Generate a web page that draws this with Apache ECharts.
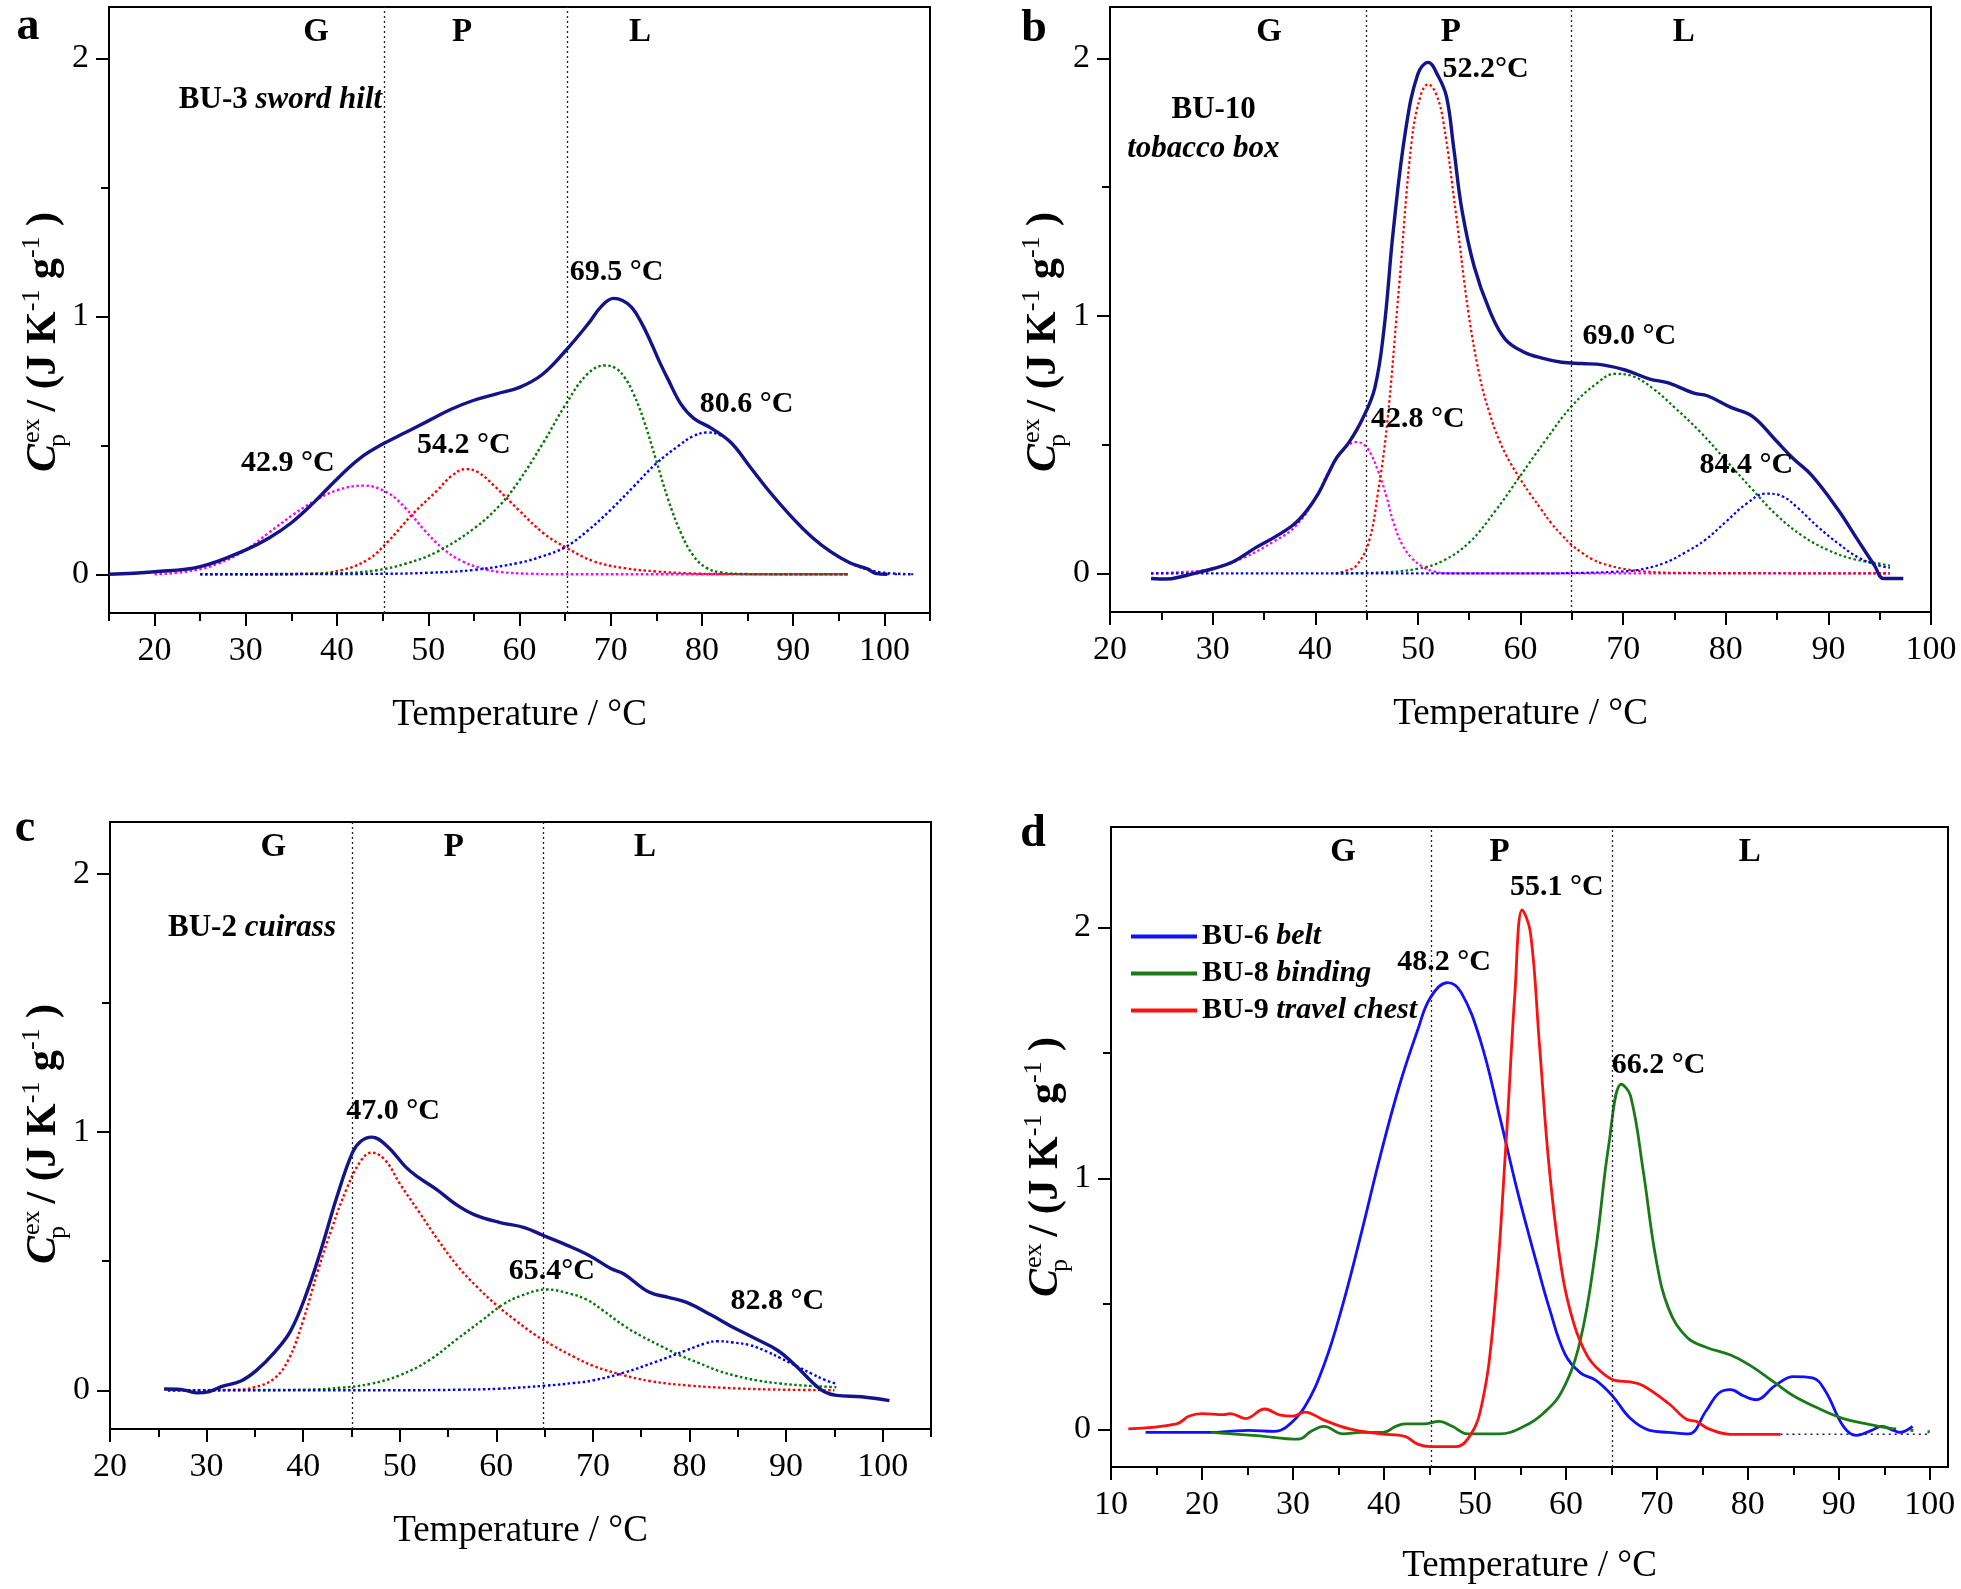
<!DOCTYPE html>
<html><head><meta charset="utf-8">
<script src="https://cdn.jsdelivr.net/npm/echarts@6/dist/echarts.min.js"></script>
<style>html,body{margin:0;padding:0;background:#fff}#c{width:1961px;height:1589px}</style>
</head><body><div id="c"></div><script>
const FONT = "'Liberation Serif','Times New Roman',Times,serif";
const NAVY = '#14148a';

// ---------- Panel a : BU-3 sword hilt ----------
const a_env = [[15,0],[20,0.01],[25,0.03],[30,0.095],[32.5,0.14],[35,0.2],[37.5,0.28],[40,0.37],[42.5,0.45],[45,0.505],[47.5,0.55],[50,0.595],[52.5,0.64],[55,0.675],[57.5,0.7],[60,0.725],[62.5,0.775],[65,0.865],[67.5,0.97],[69,1.04],[70.3,1.07],[71.3,1.062],[72.3,1.035],[73.3,0.98],[74.4,0.9],[75.4,0.82],[76.3,0.755],[77.7,0.66],[79.1,0.605],[81.1,0.565],[83.2,0.51],[85.2,0.42],[87.3,0.325],[90,0.216],[92.1,0.143],[94.1,0.088],[96.2,0.045],[97.4,0.03],[98.2,0.02],[99,0.004],[100.3,0]];
const a_tail = [[100.3,0],[103.5,0]];
const a_magenta = [[20,0],[23.6,0.011],[27,0.042],[30.1,0.097],[32.5,0.161],[35.3,0.234],[37.3,0.28],[40,0.326],[42.9,0.344],[45.5,0.317],[47.6,0.253],[49.6,0.17],[51.7,0.097],[53.7,0.051],[55.8,0.024],[57.9,0.009],[61.3,0.002],[65,0],[96,0]];
const a_red = [[30,0],[37,0.002],[40.7,0.018],[43.5,0.06],[45.5,0.124],[48.3,0.234],[51,0.326],[52.5,0.38],[54.1,0.408],[55.5,0.395],[57.2,0.344],[59.9,0.25],[62.6,0.16],[65,0.106],[68.1,0.051],[71.5,0.024],[75,0.011],[78.4,0.004],[82,0.001],[96,0]];
const a_green = [[25,0],[40,0.004],[44.2,0.015],[47.6,0.042],[51,0.088],[55.1,0.18],[57.9,0.27],[59.9,0.36],[62.6,0.51],[65,0.655],[67.4,0.775],[69.4,0.81],[70.5,0.8],[71.5,0.765],[72.5,0.7],[73.6,0.6],[75,0.44],[76.3,0.29],[77.7,0.16],[79.1,0.07],[80.5,0.025],[82,0.008],[85,0.001],[96,0]];
const a_blue = [[25,0],[45,0.002],[50,0.006],[55,0.017],[60,0.045],[62.5,0.07],[65,0.105],[67.5,0.17],[70,0.25],[72.5,0.34],[75,0.43],[77.5,0.5],[79,0.535],[80.6,0.55],[82,0.54],[83.5,0.5],[85.2,0.42],[87.3,0.325],[90,0.216],[92,0.145],[94,0.09],[96,0.048],[98,0.02],[100,0.006],[103,0]];
const a_text = [
  {x:34.6,y:0.43,t:'42.9 °C'},{x:53.9,y:0.50,t:'54.2 °C'},{x:70.65,y:1.17,t:'69.5 °C'},{x:84.9,y:0.66,t:'80.6 °C'},
  {x:37.7,y:2.1,t:'G'},{x:53.7,y:2.1,t:'P'},{x:73.2,y:2.1,t:'L'},
  {x:33.8,y:1.84,t:'{b|BU-3 }{bi|sword hilt}'}
];

// ---------- Panel b : BU-10 tobacco box ----------
const b_env = [[24,-0.02],[25.5,-0.022],[27,-0.012],[28.5,0.003],[30,0.018],[32,0.045],[34.2,0.1],[36,0.14],[37.9,0.19],[39.1,0.24],[40.3,0.31],[41.3,0.39],[42.1,0.45],[43.3,0.51],[44.6,0.6],[45.8,0.72],[46.7,0.95],[47.6,1.33],[48.8,1.72],[50,1.94],[51,1.985],[52,1.93],[52.8,1.85],[53.5,1.65],[54.3,1.41],[55.5,1.19],[57,1.02],[58.5,0.91],[60.3,0.86],[62.2,0.835],[64,0.82],[66,0.815],[68,0.81],[70.2,0.79],[72.6,0.755],[74.4,0.74],[76.9,0.7],[78.2,0.69],[80.5,0.645],[82.6,0.61],[84.8,0.52],[86.6,0.445],[88.4,0.38],[90.9,0.25],[92.7,0.14],[94.5,0.03],[95.4,-0.02],[97.3,-0.02]];
const b_magenta = [[24,0],[27,0.005],[30,0.018],[33,0.06],[36,0.125],[38,0.18],[40,0.29],[41.5,0.41],[43,0.49],[44,0.51],[45,0.49],[46.1,0.4],[47,0.29],[47.6,0.2],[48.5,0.11],[49.4,0.06],[50.5,0.025],[51.5,0.008],[53,0],[96,0]];
const b_red = [[42,0],[43,0.01],[44,0.03],[45.2,0.12],[46.1,0.31],[47,0.58],[48.2,1.13],[49.4,1.68],[50.3,1.86],[51,1.9],[51.8,1.86],[52.5,1.75],[53.7,1.4],[54.9,1.02],[56,0.77],[57,0.62],[58,0.51],[59,0.43],[60,0.365],[61,0.305],[62,0.25],[63,0.195],[64,0.15],[65,0.11],[66,0.08],[67,0.055],[68,0.038],[70,0.018],[72,0.008],[75,0.002],[96,0]];
const b_green = [[42,0],[46,0.003],[50,0.018],[52.5,0.05],[55,0.12],[57.5,0.24],[60,0.38],[62.5,0.52],[65,0.65],[67.5,0.74],[69.2,0.775],[71,0.765],[73,0.715],[75,0.645],[77.5,0.55],[80,0.44],[82.5,0.33],[85,0.225],[87.5,0.145],[90,0.09],[92.5,0.055],[95,0.038],[96,0.03]];
const b_blue = [[24,0],[62,0],[66,0.002],[69,0.006],[71.4,0.013],[74,0.04],[76,0.08],[78,0.13],[80,0.2],[82,0.27],[83.9,0.31],[85.5,0.3],[87,0.255],[89,0.18],[91,0.115],[93,0.06],[95,0.03],[96,0.022]];
const b_text = [
  {x:56.6,y:1.96,t:'52.2°C'},{x:70.6,y:0.92,t:'69.0 °C'},{x:50.0,y:0.60,t:'42.8 °C'},{x:82.0,y:0.42,t:'84.4 °C'},
  {x:35.5,y:2.1,t:'G'},{x:53.2,y:2.1,t:'P'},{x:75.9,y:2.1,t:'L'},
  {x:30.1,y:1.80,t:'{b|BU-10}'},{x:29.1,y:1.65,t:'{bi|tobacco box}'}
];

// ---------- Panel c : BU-2 cuirass ----------
const c_env = [[25.6,0.005],[27,0.004],[28,-0.002],[29,-0.01],[30.3,-0.005],[31.6,0.015],[33.5,0.035],[35.1,0.075],[37.1,0.15],[38.7,0.23],[40.3,0.37],[41.9,0.55],[43.5,0.75],[45.1,0.92],[46,0.965],[47.1,0.98],[48.7,0.945],[50.6,0.865],[51.9,0.825],[53.9,0.775],[55.8,0.72],[57.7,0.68],[60.3,0.65],[62.9,0.63],[64.8,0.6],[67.4,0.56],[69.7,0.52],[71.9,0.47],[73.2,0.45],[75.8,0.38],[77.8,0.36],[79.7,0.34],[82.3,0.29],[84.2,0.25],[86.8,0.2],[89.1,0.155],[91,0.095],[92.6,0.035],[93.9,-0.005],[95.2,-0.02],[97.8,-0.025],[100.7,-0.04]];
const c_red = [[26,0],[33,0.002],[35,0.012],[37,0.045],[38.5,0.12],[40,0.27],[41.5,0.46],[43,0.63],[44.5,0.78],[46,0.89],[47.1,0.92],[48.5,0.89],[50,0.8],[52,0.69],[54,0.58],[56,0.48],[58,0.4],[60,0.33],[62,0.27],[64,0.215],[66,0.17],[68,0.13],[70,0.095],[73,0.06],[76,0.035],[80,0.018],[85,0.007],[90,0.002],[95,0]];
const c_green = [[26,0],[40,0.002],[44,0.01],[47,0.025],[50,0.058],[53,0.115],[56,0.2],[58.5,0.27],[60.6,0.33],[62.5,0.365],[65.2,0.39],[67.5,0.375],[69.4,0.35],[71,0.31],[73.2,0.25],[75,0.21],[77.1,0.17],[79,0.135],[81,0.105],[83,0.075],[84.9,0.055],[87,0.038],[89.4,0.026],[92,0.018],[95.2,0.012]];
const c_blue = [[26,0],[50,0],[56,0.002],[60.3,0.006],[65.2,0.018],[68,0.028],[70,0.038],[73.2,0.068],[76.5,0.11],[79.7,0.155],[81.5,0.18],[82.9,0.19],[84.5,0.185],[86.2,0.175],[88,0.15],[89.4,0.125],[91,0.095],[92.6,0.065],[94,0.04],[95.2,0.025]];
const c_text = [
  {x:49.3,y:1.08,t:'47.0 °C'},{x:65.75,y:0.46,t:'65.4°C'},{x:89.1,y:0.345,t:'82.8 °C'},
  {x:36.9,y:2.1,t:'G'},{x:55.6,y:2.1,t:'P'},{x:75.4,y:2.1,t:'L'},
  {x:34.7,y:1.79,t:'{b|BU-2 }{bi|cuirass}'}
];

// ---------- Panel d : BU-6, BU-8, BU-9 ----------
const d_names = ['BU-6 belt','BU-8 binding','BU-9 travel chest'];
const d_blue = [[13.8,-0.012],[21,-0.012],[23,-0.008],[25.1,-0.004],[27.9,-0.008],[29.3,0.01],[31.3,0.09],[33.4,0.255],[35.5,0.5],[37.5,0.78],[39.6,1.09],[41.7,1.37],[43.7,1.59],[45.1,1.72],[47,1.78],[48.5,1.74],[50.6,1.55],[52.7,1.25],[54.7,0.945],[56.8,0.66],[58.2,0.48],[59.9,0.3],[61.6,0.225],[63.3,0.195],[65.1,0.134],[67.1,0.043],[69.2,-0.004],[71.3,-0.012],[73.5,-0.018],[75.4,0.073],[76.8,0.144],[78.1,0.158],[79.5,0.134],[80.9,0.118],[83,0.174],[85,0.21],[87.1,0.205],[88.5,0.154],[90.5,0.012],[91.9,-0.024],[93.6,-0.004],[94.7,0.012],[96,-0.004],[96.7,-0.012],[98.1,0.012]];
const d_green = [[21,-0.012],[26,-0.025],[30.6,-0.039],[32,-0.008],[33.4,0.012],[35.5,-0.018],[37.5,-0.012],[39.9,-0.012],[41.3,0.012],[42.3,0.022],[44.4,0.022],[46.1,0.032],[47.5,0.012],[49.2,-0.018],[52.7,-0.018],[55.4,0.012],[57.5,0.063],[59.6,0.154],[61.6,0.357],[63.3,0.722],[64.7,1.13],[66.1,1.375],[67.1,1.33],[68.5,1.03],[69.9,0.68],[71.3,0.48],[73.3,0.367],[75.4,0.327],[78.1,0.296],[80.2,0.256],[83,0.185],[85,0.134],[87.8,0.083],[90.5,0.043],[93.3,0.02],[96,0.002]];
const d_green_tail = [[96,0.002],[100,-0.01]];
const d_red = [[11.9,0.002],[17.2,0.022],[18.6,0.053],[20,0.063],[22.4,0.059],[23.1,0.063],[24.8,0.043],[26.9,0.081],[28.6,0.057],[30,0.053],[31.3,0.069],[33.4,0.037],[36.2,0.002],[39.6,-0.018],[42.3,-0.028],[43.7,-0.059],[45.1,-0.069],[47.9,-0.069],[49.2,-0.039],[50.6,0.073],[52,0.418],[53.4,1.13],[54.4,1.74],[55.2,2.07],[56.1,1.98],[57.1,1.53],[58.2,1.03],[59.6,0.62],[60.9,0.418],[62.3,0.296],[63.7,0.235],[65.4,0.195],[67.1,0.189],[68.5,0.174],[71.3,0.103],[73.3,0.039],[74.3,0.032],[75.7,0.002],[78.1,-0.02],[83.6,-0.02]];
const d_base = [[83.6,-0.02],[100,-0.02]];
const d_text = [
  {x:59.0,y:2.16,t:'55.1 °C'},{x:46.6,y:1.86,t:'48.2 °C'},{x:70.2,y:1.45,t:'66.2 °C'},
  {x:35.5,y:2.3,t:'G'},{x:52.7,y:2.3,t:'P'},{x:80.2,y:2.3,t:'L'}
];

// ---------- axes ticks ----------
const a_xTicks = [20,30,40,50,60,70,80,90,100];
const a_xMinor = [15,25,35,45,55,65,75,85,95,105];
const b_xTicks = [20,30,40,50,60,70,80,90,100];
const b_xMinor = [25,35,45,55,65,75,85,95];
const c_xTicks = [20,30,40,50,60,70,80,90,100];
const c_xMinor = [25,35,45,55,65,75,85,95,105];
const d_xTicks = [10,20,30,40,50,60,70,80,90,100];
const d_xMinor = [15,25,35,45,55,65,75,85,95];
const yTicks = [0,1,2];
const yMinor = [0.5,1.5];

const panels = [
  {grid:{left:109,top:7,width:821,height:606}, xMin:15, xMax:105, yMin:-0.15, yMax:2.2, xt:a_xTicks, xm:a_xMinor, vl:[45.2,65.2], nameGap:84},
  {grid:{left:1110,top:7,width:821,height:605}, xMin:20, xMax:100, yMin:-0.15, yMax:2.2, xt:b_xTicks, xm:b_xMinor, vl:[45.0,64.9], nameGap:84},
  {grid:{left:110,top:822,width:821,height:607}, xMin:20, xMax:105, yMin:-0.15, yMax:2.2, xt:c_xTicks, xm:c_xMinor, vl:[45.1,64.9], nameGap:84},
  {grid:{left:1111,top:827,width:837,height:640}, xMin:10, xMax:102, yMin:-0.15, yMax:2.4, xt:d_xTicks, xm:d_xMinor, vl:[45.2,65.1], nameGap:81}
];

const grids = [], xAxes = [], yAxes = [];
const tickLine = {color:'#000', width:2};
panels.forEach((p,i)=>{
  grids.push(Object.assign({show:true, borderColor:'#000', borderWidth:2, backgroundColor:'transparent', containLabel:false}, p.grid));
  xAxes.push({type:'value', gridIndex:i, min:p.xMin, max:p.xMax, position:'bottom',
    axisLine:{show:true,onZero:false,lineStyle:{color:'#000',width:2}},
    axisTick:{show:true,inside:false,length:13,lineStyle:tickLine,customValues:p.xt},
    axisLabel:{show:true,customValues:p.xt,fontSize:34,fontFamily:FONT,color:'#000',margin:21,showMinLabel:true,showMaxLabel:true},
    splitLine:{show:false},
    name:'Temperature / °C', nameLocation:'middle', nameGap:p.nameGap,
    nameTextStyle:{fontSize:37,fontFamily:FONT,color:'#000'}});
  yAxes.push({type:'value', gridIndex:i, min:p.yMin, max:p.yMax, position:'left',
    axisLine:{show:true,onZero:false,lineStyle:{color:'#000',width:2}},
    axisTick:{show:true,inside:false,length:13,lineStyle:tickLine,customValues:yTicks},
    axisLabel:{show:true,customValues:yTicks,fontSize:34,fontFamily:FONT,color:'#000',margin:20},
    splitLine:{show:false}});
});
panels.forEach((p,i)=>{
  xAxes.push({type:'value', gridIndex:i, min:p.xMin, max:p.xMax, position:'bottom',
    axisLine:{show:false,onZero:false}, axisTick:{show:true,inside:false,length:8,lineStyle:tickLine,customValues:p.xm},
    axisLabel:{show:false}, splitLine:{show:false}});
  yAxes.push({type:'value', gridIndex:i, min:p.yMin, max:p.yMax, position:'left',
    axisLine:{show:false,onZero:false}, axisTick:{show:true,inside:false,length:8,lineStyle:tickLine,customValues:yMinor},
    axisLabel:{show:false}, splitLine:{show:false}});
});

const series = [];
function line(i, name, data, color, width, dash, z){
  return {type:'line', name, xAxisIndex:i, yAxisIndex:i, data, smooth:0.4,
    showSymbol:false, symbol:'none', silent:true, z:z||3,
    lineStyle:{color, width, type: dash||'solid', cap:'butt', join:'round'}, itemStyle:{color}};
}
function vlines(i, xs){
  return {type:'line', xAxisIndex:i, yAxisIndex:i, data:[], silent:true,
    markLine:{silent:true, symbol:['none','none'], label:{show:false}, animation:false,
      lineStyle:{color:'#222', type:[2,3], width:1.3},
      data: xs.map(v=>({xAxis:v}))}};
}
const DOT = [2.5,2.5];
// a
series.push(vlines(0, panels[0].vl));
series.push(line(0,'a-mag',a_magenta,'#ff00ff',2.4,DOT));
series.push(line(0,'a-red',a_red,'#ff0000',2.4,DOT));
series.push(line(0,'a-green',a_green,'#007a00',2.4,DOT));
series.push(line(0,'a-blue',a_blue,'#0000ff',2.4,DOT));
series.push(line(0,'a-env',a_env,NAVY,3.4,'solid',5));
series.push(line(0,'a-tail',a_tail,NAVY,2,[2,6]));
// b
series.push(vlines(1, panels[1].vl));
series.push(line(1,'b-mag',b_magenta,'#ff00ff',2.2,DOT));
series.push(line(1,'b-red',b_red,'#ff0000',2.2,DOT));
series.push(line(1,'b-green',b_green,'#007a00',2.2,DOT));
series.push(line(1,'b-blue',b_blue,'#0000ff',2.2,DOT));
series.push(line(1,'b-env',b_env,NAVY,3.4,'solid',5));
// c
series.push(vlines(2, panels[2].vl));
series.push(line(2,'c-red',c_red,'#ff0000',2.4,DOT));
series.push(line(2,'c-green',c_green,'#007a00',2.4,DOT));
series.push(line(2,'c-blue',c_blue,'#0000ff',2.4,DOT));
series.push(line(2,'c-env',c_env,NAVY,3.4,'solid',5));
// d
series.push(vlines(3, panels[3].vl));
series.push(line(3,'d-base',d_base,NAVY,1.5,[2,4]));
series.push(line(3,'d-gtail',d_green_tail,'#1a7a1a',3,[3,14]));
series.push(line(3,d_names[0],d_blue,'#1010ff',2.8,'solid',4));
series.push(line(3,d_names[1],d_green,'#1a7a1a',2.8,'solid',4));
series.push(line(3,d_names[2],d_red,'#ff1010',2.8,'solid',5));

const rich = {
  b:{fontWeight:'bold',fontFamily:FONT,fontSize:31,fill:'#000',color:'#000'},
  bi:{fontWeight:'bold',fontStyle:'italic',fontFamily:FONT,fontSize:31,fill:'#000',color:'#000'}
};

// y-axis titles built from text pieces
function yTitle(cx, cy){
  const ctx = document.createElement('canvas').getContext('2d');
  const meas = (t,s,st,w)=>{ ctx.font = st+' '+w+' '+s+'px "Liberation Serif"'; return ctx.measureText(t).width; };
  const B = 42, S = 26;
  const parts = [];
  let x = 0;
  const add = (t,s,st,w,dy)=>{ parts.push({t,s,st,w,x,dy}); x += meas(t,s,st,w); };
  add('C',B,'italic','bold',0);
  const x0 = x;
  const wex = meas('ex',S,'normal','normal');
  parts.push({t:'ex',s:S,st:'normal',w:'normal',x:x0+1,dy:-17});
  parts.push({t:'p',s:S,st:'normal',w:'normal',x:x0-3,dy:9});
  x = x0 + wex + 8;
  add('/ (J K',B,'normal','bold',0);
  add('-1',S,'normal','normal',-17);
  add(' g',B,'normal','bold',0);
  add('-1',S,'normal','normal',-17);
  add(' )',B,'normal','bold',0);
  const W = x;
  return {type:'group', x:cx, y:cy, rotation:Math.PI/2, silent:true,
    children: parts.map(p=>({type:'text', x:p.x - W/2, y: 14 + p.dy - 0.3375*p.s,
      style:{text:p.t, fontSize:p.s, fontFamily:FONT, fontStyle:p.st, fontWeight:p.w, fill:'#000',
        textAlign:'left', align:'left', textVerticalAlign:'middle', verticalAlign:'middle'}}))};
}
function letter(t,x,y){
  return {type:'text', x, y, silent:true, style:{text:t, fontSize:46, fontWeight:'bold', fontFamily:FONT, fill:'#000',
    textAlign:'center', align:'center', textVerticalAlign:'middle', verticalAlign:'middle'}};
}

const option = {
  animation:false,
  backgroundColor:'#fff',
  grid: grids, xAxis: xAxes, yAxis: yAxes, series,
  legend:{data:d_names, orient:'vertical', left:1126, top:916, itemWidth:66, itemHeight:4, itemGap:6, icon:'rect',
    selectedMode:false,
    textStyle:{fontSize:30, fontFamily:FONT, color:'#000', lineHeight:31, rich:{
      b:{fontWeight:'bold',fontFamily:FONT,fontSize:30,color:'#000',lineHeight:31},
      bi:{fontWeight:'bold',fontStyle:'italic',fontFamily:FONT,fontSize:30,color:'#000',lineHeight:31}}},
    formatter: n => { const k = n.indexOf(' '); return '{b|'+n.slice(0,k+1)+'}{bi|'+n.slice(k+1)+'}'; }}
};
const chart = echarts.init(document.getElementById('c'), null, {renderer:'canvas'});
chart.setOption(option);

const graphics = [
  letter('a',28,27), letter('b',1034,29), letter('c',25,829), letter('d',1033,834),
  yTitle(44,342), yTitle(1044,342), yTitle(44,1134), yTitle(1046,1167)
];
[[0,a_text],[1,b_text],[2,c_text],[3,d_text]].forEach(([i,arr])=>{
  arr.forEach(o=>{
    const pt = chart.convertToPixel({gridIndex:i}, [o.x,o.y]);
    const single = o.t.length===1;
    graphics.push({type:'text', x:pt[0], y:pt[1], silent:true, z:20,
      style:{text:o.t, rich, fontSize: single?33:30, fontWeight:'bold', fontFamily:FONT, fill:'#000',
        textAlign:'center', align:'center', textVerticalAlign:'middle', verticalAlign:'middle'}});
  });
});
chart.setOption({graphic: graphics});
</script></body></html>
